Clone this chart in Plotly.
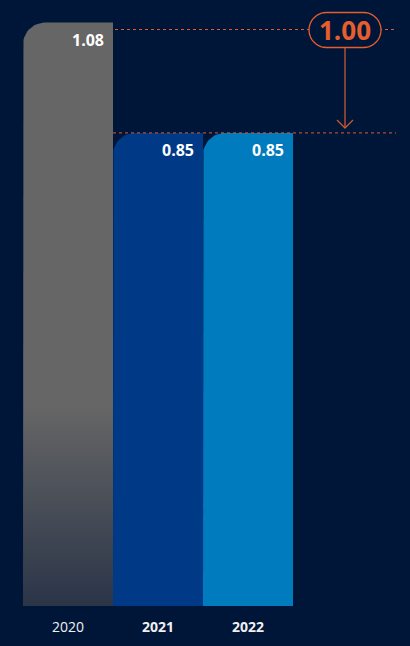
import numpy as np
import plotly.graph_objects as go

# Data
years = ["2020", "2021", "2022"]
values = [1.08, 0.85, 0.85]
target_label = "1.00"
bold_ticks = [False, True, True]

# Styling
BG = "#001639"
ORANGE = "#e85d2c"
DASH = "#dc5a2c"
ARROW = "#c8582e"
bar_fills = [None, "#003a87", "#007bbd"]
FONT = "Open Sans"

W, H = 410, 646
MB = 40                      # bottom margin (tick labels)
PH = H - MB                  # plot height in px
Y0, Y1 = -0.136, 1.127       # value axis range
X0 = -0.5 - 23 / 90          # category axis range (90 px per category)
X1 = X0 + W / 90

px_per_x = W / (X1 - X0)
px_per_y = PH / (Y1 - Y0)
R = 22                       # top-left corner radius in px
rx, ry = R / px_per_x, R / px_per_y


def bar_outline(i, v):
    """Closed outline of a bar with a rounded top-left corner."""
    left, right = i - 0.5, i + 0.5
    xs = [left, left]
    ys = [Y0, v - ry]
    for t in np.linspace(np.pi, np.pi / 2, 16):
        xs.append(left + rx + rx * np.cos(t))
        ys.append(v - ry + ry * np.sin(t))
    xs += [right, right, left]
    ys += [v, Y0, Y0]
    return xs, ys


fig = go.Figure()

for i, (yr, v) in enumerate(zip(years, values)):
    xs, ys = bar_outline(i, v)
    tr = dict(x=xs, y=ys, mode="lines", fill="toself",
              line=dict(width=0), hoverinfo="skip", showlegend=False)
    if bar_fills[i] is None:
        frac = (PH - 405) / ((v - Y0) * px_per_y)
        tr["fillgradient"] = dict(
            type="vertical",
            colorscale=[[0, "#2b3548"], [frac, "#666666"], [1, "#666666"]],
        )
    else:
        tr["fillcolor"] = bar_fills[i]
    fig.add_trace(go.Scatter(**tr))
    fig.add_annotation(
        x=i + 0.5, y=v, xref="x", yref="y", text=f"<b>{v:.2f}</b>",
        showarrow=False, xanchor="right", yanchor="middle",
        xshift=-7, yshift=-17,
        font=dict(family=FONT, size=16, color="white"),
    )


def px(x):
    return x / W


def py(y):
    return 1 - y / PH


# Reference dashed lines
upper_y = 29.5
fig.add_shape(type="line", xref="paper", yref="paper",
              x0=px(115), x1=px(396), y0=py(upper_y), y1=py(upper_y),
              line=dict(color=DASH, width=1, dash="3px,3px"))
fig.add_shape(type="line", xref="paper", yref="y",
              x0=px(113), x1=px(396), y0=values[1], y1=values[1],
              line=dict(color=DASH, width=1, dash="3px,3px"))

# Arrow from the label down to the lower line
ax = 345
fig.add_shape(type="line", xref="paper", yref="paper",
              x0=px(ax), x1=px(ax), y0=py(47), y1=py(128),
              line=dict(color=ARROW, width=1.3))
fig.add_shape(type="path", xref="paper", yref="paper",
              path=f"M{px(ax-8)},{py(120)} L{px(ax)},{py(128)} L{px(ax+8)},{py(120)}",
              line=dict(color=ARROW, width=1.3))

# Pill-shaped label box
pl, pr, pt, pb = 309, 381, 12.5, 47.5
r = (pb - pt) / 2
pts = []
for t in np.linspace(np.pi / 2, 3 * np.pi / 2, 20):
    pts.append((pl + r + r * np.cos(t), pt + r - r * np.sin(t)))
for t in np.linspace(-np.pi / 2, np.pi / 2, 20):
    pts.append((pr - r + r * np.cos(t), pt + r - r * np.sin(t)))
path = "M" + " L".join(f"{px(a)},{py(b)}" for a, b in pts) + " Z"
fig.add_shape(type="path", xref="paper", yref="paper", path=path,
              fillcolor=BG, line=dict(color=ORANGE, width=1.3))
fig.add_annotation(x=px((pl + pr) / 2), y=py((pt + pb) / 2), xref="paper", yref="paper",
                   text=f"<b>{target_label}</b>", showarrow=False,
                   xanchor="center", yanchor="middle",
                   font=dict(family=FONT, size=26, color=ORANGE))

ticktext = [f"<b>{y}</b>" if b else y for y, b in zip(years, bold_ticks)]

fig.update_layout(
    width=W, height=H,
    margin=dict(l=0, r=0, t=0, b=MB),
    paper_bgcolor=BG, plot_bgcolor=BG,
    xaxis=dict(range=[X0, X1], tickvals=list(range(len(years))), ticktext=ticktext,
               showgrid=False, zeroline=False, showline=False, ticks="",
               ticklabelstandoff=11,
               tickfont=dict(family=FONT, size=14, color="#f0f0f0"),
               fixedrange=True),
    yaxis=dict(range=[Y0, Y1], visible=False, showgrid=False, zeroline=False,
               fixedrange=True),
    hovermode=False,
)

fig.write_html("out.html", config={"displayModeBar": False})
